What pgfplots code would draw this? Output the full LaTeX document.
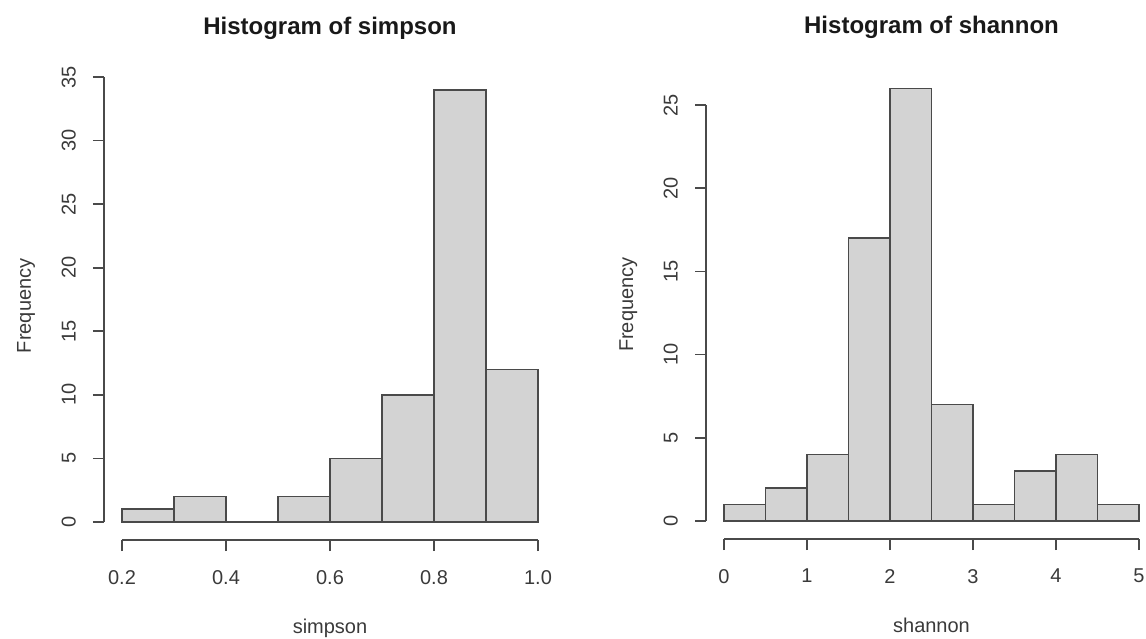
\documentclass[border=0pt]{standalone}
\usepackage{pgfplots}
\pgfplotsset{compat=1.18}
\usepackage{fontspec}
\setmainfont{Liberation Sans}
\definecolor{barfill}{HTML}{D3D3D3}
\definecolor{ln}{HTML}{4A4A4A}
\definecolor{txt}{HTML}{3A3A3A}
\pgfplotsset{rstyle/.style={
  scale only axis, enlargelimits=false, clip=false,
  axis x line=bottom, axis y line=left,
  axis line style={-, ln, line width=0.8pt},
  axis x line shift=9pt, axis y line shift=9pt,
  tick align=outside, major tick length=5.5pt,
  tick style={ln, line width=0.8pt},
  minor tick num=0,
  ticklabel style={font=\fontsize{10}{12}\selectfont, text=txt},
  /pgf/number format/assume math mode=true,
  xticklabel style={yshift=-6pt},
  yticklabel style={rotate=90, anchor=south, yshift=5pt},
  every axis title/.style={font=\bfseries\fontsize{12}{14}\selectfont, text=black!90, anchor=base, at={([yshift=243.5pt]rel axis cs:0.5,0)}},
  every axis x label/.style={font=\fontsize{10}{12}\selectfont, text=txt, anchor=base, at={([yshift=-55.5pt]rel axis cs:0.5,0)}},
  every axis y label/.style={font=\fontsize{10}{12}\selectfont, text=txt, anchor=base, rotate=90},
}}
\begin{document}
\begin{tikzpicture}
\useasboundingbox (0,0) rectangle (573pt,319pt);
\begin{axis}[rstyle, at={(61pt,58pt)}, anchor=south west,
  width=208pt, height=222.5pt,
  xmin=0.2, xmax=1.0, ymin=0, ymax=35,
  xtick={0.2,0.4,0.6,0.8,1.0}, ytick={0,5,...,35},
  xticklabel style={/pgf/number format/.cd, fixed, fixed zerofill, precision=1},
  title={Histogram of simpson}, xlabel={simpson}, ylabel={Frequency},
  ylabel style={at={([xshift=-45.5pt]rel axis cs:0,0.4857)}}]
\addplot[ybar interval, fill=barfill, draw=ln, line width=0.8pt] coordinates {
(0.2,1) (0.3,2) (0.4,0) (0.5,2) (0.6,5) (0.7,10) (0.8,34) (0.9,12) (1.0,12)};
\end{axis}
\begin{axis}[rstyle, at={(362pt,58.5pt)}, anchor=south west,
  width=207.5pt, height=208pt,
  xmin=0, xmax=5, ymin=0, ymax=25,
  xtick={0,1,...,5}, ytick={0,5,...,25},
  title={Histogram of shannon}, xlabel={shannon}, ylabel={Frequency},
  ylabel style={at={([xshift=-45.5pt]rel axis cs:0,0.52)}}]
\addplot[ybar interval, fill=barfill, draw=ln, line width=0.8pt] coordinates {
(0,1) (0.5,2) (1,4) (1.5,17) (2,26) (2.5,7) (3,1) (3.5,3) (4,4) (4.5,1) (5,1)};
\end{axis}
\end{tikzpicture}
\end{document}
